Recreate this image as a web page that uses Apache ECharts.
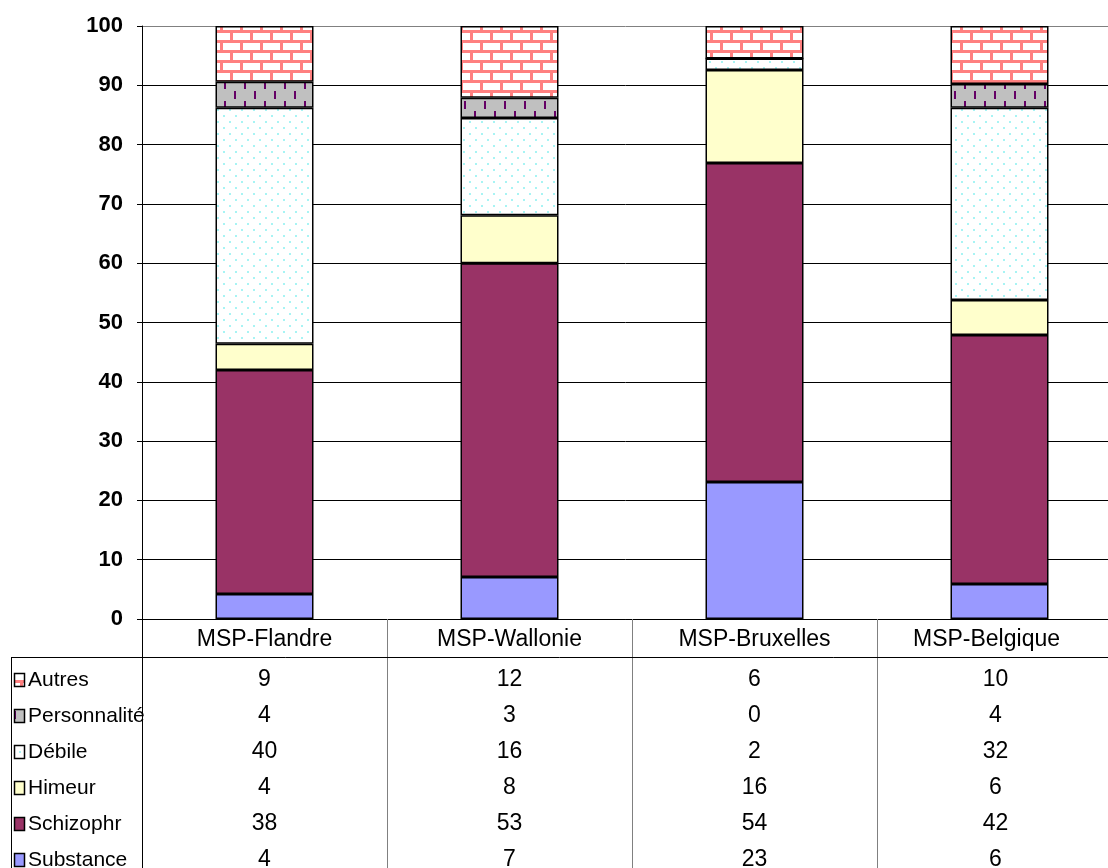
<!DOCTYPE html>
<html><head><meta charset="utf-8">
<script src="https://cdn.jsdelivr.net/npm/echarts@6/dist/echarts.min.js"></script>
<style>html,body{margin:0;padding:0;background:#fff}#c{width:1108px;height:868px}</style>
</head><body><div id="c"></div>
<script>
// ---- data (percent of each column) ----
const categories = ['MSP-Flandre', 'MSP-Wallonie', 'MSP-Bruxelles', 'MSP-Belgique'];
const substance    = [4.2, 7.1, 23.1, 5.9];
const schizophr    = [37.8, 52.9, 53.8, 42.0];
const himeur       = [4.4, 8.1, 15.7, 5.9];
const debile       = [39.8, 16.4, 1.9, 32.4];
const personnalite = [4.4, 3.4, 0, 4.0];
const autres       = [9.4, 12.1, 5.5, 9.8];
const yMin = 0, yMax = 100, yStep = 10;

const FONT = '"Liberation Sans", Arial, sans-serif';

function makePattern(w, h, draw) {
  const c = document.createElement('canvas');
  c.width = w; c.height = h;
  const g = c.getContext('2d');
  draw(g);
  return { image: c, repeat: 'repeat' };
}
const brick = makePattern(20, 20, g => {
  g.fillStyle = '#fff'; g.fillRect(0, 0, 20, 20);
  g.fillStyle = '#FF8080';
  g.fillRect(0, 0, 20, 3); g.fillRect(0, 10, 20, 3);
  g.fillRect(0, 0, 3, 10); g.fillRect(10, 10, 3, 10);
});
const dashes = makePattern(20, 20, g => {
  g.fillStyle = '#C0C0C0'; g.fillRect(0, 0, 20, 20);
  g.fillStyle = '#660066';
  g.fillRect(4, 1, 2, 8); g.fillRect(14, 11, 2, 8);
});
const dots = makePattern(12, 12, g => {
  g.fillStyle = '#fff'; g.fillRect(0, 0, 12, 12);
  g.fillStyle = '#A8F4F4';
  g.fillRect(1, 1, 2, 2); g.fillRect(7, 7, 2, 2);
});

const seriesDefs = [
  { name: 'Substance', data: substance, fill: '#9999FF' },
  { name: 'Schizophr', data: schizophr, fill: '#993366' },
  { name: 'Himeur', data: himeur, fill: '#FFFFCC' },
  { name: 'Débile', data: debile, fill: dots },
  { name: 'Personnalité', data: personnalite, fill: dashes },
  { name: 'Autres', data: autres, fill: brick }
];

const chart = echarts.init(document.getElementById('c'), null, { renderer: 'canvas' });
const gridColors = [];
for (let v = yMin; v <= yMax; v += yStep) gridColors.push(v === yMax ? '#808080' : '#000');

chart.setOption({
  animation: false,
  backgroundColor: '#fff',
  grid: { left: 142, top: 26, width: 980, height: 593, containLabel: false, outerBoundsMode: 'none' },
  xAxis: {
    type: 'category', data: categories,
    axisLine: { lineStyle: { color: '#000', width: 1 } },
    axisTick: { show: true, interval: 0, length: 249, lineStyle: { color: '#808080', width: 1 } },
    axisLabel: {
      color: '#000', fontSize: 23, fontFamily: FONT, margin: 9, interval: 0,
      formatter: (v, i) => i === categories.length - 1 ? '{edge|' + v + '}' : v,
      rich: { edge: { color: '#000', fontSize: 23, fontFamily: FONT, padding: [0, 26, 0, 0] } }
    },
    splitLine: { show: false }
  },
  yAxis: {
    type: 'value', min: yMin, max: yMax, interval: yStep,
    axisLine: { show: true, lineStyle: { color: '#000', width: 1 } },
    axisTick: { show: true, length: 5, lineStyle: { color: '#000' } },
    axisLabel: { color: '#000', fontSize: 22, fontWeight: 'bold', fontFamily: FONT, margin: 19 },
    splitLine: { show: true, lineStyle: { color: gridColors, width: 1 } }
  },
  series: seriesDefs.map(s => ({
    name: s.name, type: 'bar', stack: 'total', barWidth: '40%',
    data: s.data,
    itemStyle: { color: s.fill, borderColor: '#000', borderWidth: 1.5 },
    emphasis: { disabled: true }
  }))
});

// ---- data table under the axis ----
const rowOrder = seriesDefs.slice().reverse();
const rowY0 = 679.5, rowStep = 36;
const graphics = [
  { type: 'line', shape: { x1: 142.5, y1: 619, x2: 142.5, y2: 868 }, style: { stroke: '#000', lineWidth: 1 }, z: 100 },
  { type: 'line', shape: { x1: 137, y1: 619.5, x2: 142, y2: 619.5 }, style: { stroke: '#000', lineWidth: 1 }, z: 100 },
  { type: 'line', shape: { x1: 11, y1: 657.5, x2: 1108, y2: 657.5 }, style: { stroke: '#000', lineWidth: 1 }, z: 100 },
  { type: 'line', shape: { x1: 11.5, y1: 657, x2: 11.5, y2: 868 }, style: { stroke: '#000', lineWidth: 1 }, z: 100 }
];
rowOrder.forEach((s, r) => {
  const cy = rowY0 + r * rowStep;
  graphics.push({ type: 'rect', shape: { x: 14.5, y: Math.round(cy - 7) + 0.5, width: 10, height: 13 },
    style: { fill: s.fill, stroke: '#000', lineWidth: 1.5 }, z: 100 });
  graphics.push({ type: 'text', x: 28, y: cy + 1, style: { text: s.name, fill: '#000', fontSize: 21, fontFamily: FONT,
    textAlign: 'left', textVerticalAlign: 'middle' }, z: 101 });
  categories.forEach((c, i) => {
    const px = chart.convertToPixel({ xAxisIndex: 0 }, c) - (i === categories.length - 1 ? 4 : 0);
    graphics.push({ type: 'text', x: px, y: cy, style: { text: String(Math.round(s.data[i])), fill: '#000', fontSize: 23,
      fontFamily: FONT, textAlign: 'center', textVerticalAlign: 'middle' }, z: 101 });
  });
});
chart.setOption({ graphic: graphics });
</script></body></html>
